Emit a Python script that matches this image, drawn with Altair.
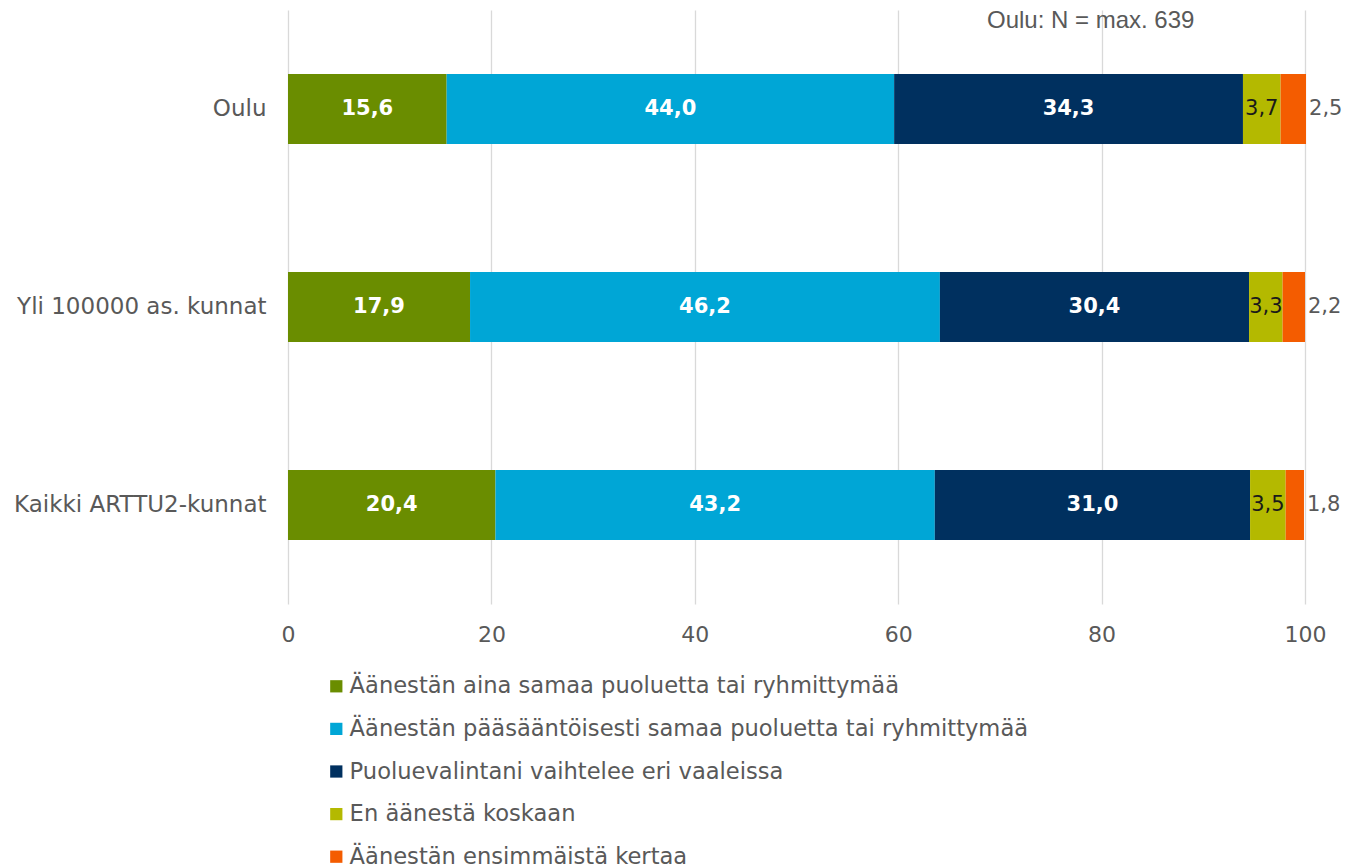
import altair as alt
import pandas as pd

groups = ["Oulu", "Yli 100000 as. kunnat", "Kaikki ARTTU2-kunnat"]
series = [
    "Äänestän aina samaa puoluetta tai ryhmittymää",
    "Äänestän pääsääntöisesti samaa puoluetta tai ryhmittymää",
    "Puoluevalintani vaihtelee eri vaaleissa",
    "En äänestä koskaan",
    "Äänestän ensimmäistä kertaa",
]
colors = ["#6A8D00", "#00A6D6", "#00305F", "#B4B900", "#F45C00"]
values = {
    "Oulu": [15.6, 44.0, 34.3, 3.7, 2.5],
    "Yli 100000 as. kunnat": [17.9, 46.2, 30.4, 3.3, 2.2],
    "Kaikki ARTTU2-kunnat": [20.4, 43.2, 31.0, 3.5, 1.8],
}
label_kind = ["inside", "inside", "inside", "small", "outside"]

rows = []
for g in groups:
    for i, s in enumerate(series):
        v = values[g][i]
        rows.append({
            "group": g, "series": s, "order": i, "value": v,
            "label": f"{v:.1f}".replace(".", ","), "kind": label_kind[i],
        })
df = pd.DataFrame(rows)

FONT = "DejaVu Sans"
GRAY = "#595959"

base = alt.Chart(df).transform_stack(
    stack="value", as_=["x0", "x1"], groupby=["group"],
    sort=[alt.SortField("order", order="ascending")],
).transform_calculate(mid="(datum.x0 + datum.x1) / 2")

yenc = alt.Y(
    "group:N", sort=groups, title=None,
    scale=alt.Scale(paddingInner=0.646, paddingOuter=0.323),
    axis=alt.Axis(ticks=False, domain=False, labelFont=FONT, labelFontSize=23,
                  labelColor=GRAY, labelPadding=22, grid=False, labelLimit=400),
)

bars = base.mark_bar().encode(
    x=alt.X("x0:Q", title=None, scale=alt.Scale(domain=[0, 100], nice=False),
            axis=alt.Axis(values=[0, 20, 40, 60, 80, 100], grid=True, gridColor="#D9D9D9",
                          gridWidth=1.3, ticks=False, domain=False, labelFont=FONT,
                          labelFontSize=22, labelColor=GRAY, labelPadding=20,
                          labelFlush=False)),
    x2="x1:Q",
    y=yenc,
    color=alt.Color("series:N", scale=alt.Scale(domain=series, range=colors),
                    sort=series,
                    legend=alt.Legend(title=None, orient="none", legendX=37, legendY=665,
                                      direction="vertical", symbolType="square",
                                      symbolSize=150, symbolStrokeWidth=0,
                                      labelFont=FONT, labelFontSize=22.6, labelColor=GRAY,
                                      rowPadding=19.6, labelOffset=2, labelLimit=900)),
    order=alt.Order("order:Q"),
)

inside = base.transform_filter("datum.kind == 'inside'").mark_text(
    font=FONT, fontSize=21, fontWeight="bold", color="white"
).encode(x="mid:Q", y=alt.Y("group:N", sort=groups), text="label:N")

small = base.transform_filter("datum.kind == 'small'").mark_text(
    font=FONT, fontSize=21, color="#1a1a1a"
).encode(x="mid:Q", y=alt.Y("group:N", sort=groups), text="label:N")

outside = base.transform_filter("datum.kind == 'outside'").mark_text(
    font=FONT, fontSize=21, color=GRAY, align="left", dx=3
).encode(x="x1:Q", y=alt.Y("group:N", sort=groups), text="label:N")

chart = alt.layer(bars, inside, small, outside).properties(
    width=1017, height=594,
    autosize=alt.AutoSizeParams(type="none"),
    padding={"left": 280, "top": 2, "right": 40, "bottom": 263},
    title=alt.TitleParams("Oulu: N = max. 639", anchor="end", dx=-148, dy=31, offset=8,
                          font="Liberation Sans", fontSize=24, fontWeight="normal",
                          color=GRAY),
).configure_view(stroke=None)

chart.save("out.html", embed_options={"renderer": "svg", "actions": False})
